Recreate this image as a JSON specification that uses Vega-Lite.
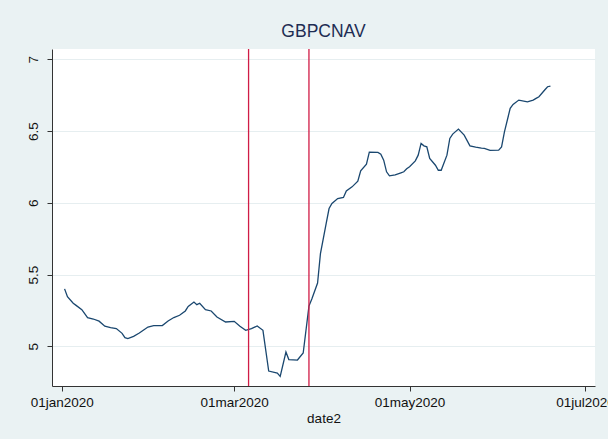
{
  "$schema": "https://vega.github.io/schema/vega-lite/v6.json",
  "width": 543,
  "height": 337,
  "autosize": {"type": "none"},
  "padding": {"left": 52, "top": 49, "right": 13, "bottom": 53},
  "background": "#EAF2F3",
  "config": {
    "view": {"fill": "white", "stroke": null},
    "font": "Liberation Sans",
    "axis": {
      "labelFont": "Liberation Sans",
      "titleFont": "Liberation Sans",
      "labelFontSize": 13.5,
      "titleFontSize": 13.5,
      "labelColor": "#111111",
      "titleColor": "#111111",
      "titleFontWeight": "normal",
      "domainColor": "#333333",
      "tickColor": "#333333",
      "tickSize": 5,
      "gridColor": "#E6EEF0",
      "gridWidth": 1
    }
  },
  "title": {
    "text": "GBPCNAV",
    "font": "Liberation Sans",
    "fontSize": 17.5,
    "fontWeight": "normal",
    "color": "#1E2D53",
    "anchor": "middle",
    "offset": 8
  },
  "layer": [
    {
      "data": {
        "values": [
          {"date": "2020-01-02", "v": 5.40},
          {"date": "2020-01-03", "v": 5.345},
          {"date": "2020-01-05", "v": 5.30},
          {"date": "2020-01-06", "v": 5.285},
          {"date": "2020-01-08", "v": 5.255},
          {"date": "2020-01-10", "v": 5.20},
          {"date": "2020-01-12", "v": 5.19},
          {"date": "2020-01-14", "v": 5.175},
          {"date": "2020-01-16", "v": 5.14},
          {"date": "2020-01-18", "v": 5.13},
          {"date": "2020-01-20", "v": 5.123},
          {"date": "2020-01-22", "v": 5.09},
          {"date": "2020-01-23", "v": 5.06},
          {"date": "2020-01-24", "v": 5.053},
          {"date": "2020-01-26", "v": 5.069},
          {"date": "2020-01-28", "v": 5.092},
          {"date": "2020-01-29", "v": 5.106},
          {"date": "2020-01-31", "v": 5.134},
          {"date": "2020-02-02", "v": 5.144},
          {"date": "2020-02-05", "v": 5.144},
          {"date": "2020-02-07", "v": 5.176},
          {"date": "2020-02-09", "v": 5.20},
          {"date": "2020-02-11", "v": 5.216},
          {"date": "2020-02-13", "v": 5.246},
          {"date": "2020-02-14", "v": 5.278},
          {"date": "2020-02-16", "v": 5.308},
          {"date": "2020-02-17", "v": 5.29},
          {"date": "2020-02-18", "v": 5.30},
          {"date": "2020-02-20", "v": 5.255},
          {"date": "2020-02-22", "v": 5.246},
          {"date": "2020-02-24", "v": 5.204},
          {"date": "2020-02-27", "v": 5.169},
          {"date": "2020-03-01", "v": 5.174},
          {"date": "2020-03-03", "v": 5.139},
          {"date": "2020-03-05", "v": 5.111},
          {"date": "2020-03-07", "v": 5.123},
          {"date": "2020-03-09", "v": 5.141},
          {"date": "2020-03-11", "v": 5.111},
          {"date": "2020-03-13", "v": 4.827},
          {"date": "2020-03-16", "v": 4.813},
          {"date": "2020-03-17", "v": 4.79},
          {"date": "2020-03-19", "v": 4.96},
          {"date": "2020-03-20", "v": 4.907},
          {"date": "2020-03-23", "v": 4.904},
          {"date": "2020-03-25", "v": 4.953},
          {"date": "2020-03-27", "v": 5.28},
          {"date": "2020-03-28", "v": 5.33},
          {"date": "2020-03-30", "v": 5.441},
          {"date": "2020-03-31", "v": 5.646},
          {"date": "2020-04-02", "v": 5.856},
          {"date": "2020-04-03", "v": 5.96},
          {"date": "2020-04-04", "v": 5.995},
          {"date": "2020-04-06", "v": 6.03},
          {"date": "2020-04-08", "v": 6.037},
          {"date": "2020-04-09", "v": 6.083},
          {"date": "2020-04-11", "v": 6.111},
          {"date": "2020-04-13", "v": 6.151},
          {"date": "2020-04-14", "v": 6.223},
          {"date": "2020-04-16", "v": 6.269},
          {"date": "2020-04-17", "v": 6.353},
          {"date": "2020-04-20", "v": 6.351},
          {"date": "2020-04-21", "v": 6.339},
          {"date": "2020-04-22", "v": 6.297},
          {"date": "2020-04-23", "v": 6.216},
          {"date": "2020-04-24", "v": 6.188},
          {"date": "2020-04-26", "v": 6.195},
          {"date": "2020-04-28", "v": 6.209},
          {"date": "2020-04-29", "v": 6.216},
          {"date": "2020-04-30", "v": 6.237},
          {"date": "2020-05-01", "v": 6.251},
          {"date": "2020-05-03", "v": 6.292},
          {"date": "2020-05-04", "v": 6.332},
          {"date": "2020-05-05", "v": 6.414},
          {"date": "2020-05-06", "v": 6.397},
          {"date": "2020-05-07", "v": 6.39},
          {"date": "2020-05-08", "v": 6.309},
          {"date": "2020-05-10", "v": 6.262},
          {"date": "2020-05-11", "v": 6.227},
          {"date": "2020-05-12", "v": 6.227},
          {"date": "2020-05-14", "v": 6.332},
          {"date": "2020-05-15", "v": 6.449},
          {"date": "2020-05-16", "v": 6.479},
          {"date": "2020-05-18", "v": 6.514},
          {"date": "2020-05-20", "v": 6.472},
          {"date": "2020-05-22", "v": 6.397},
          {"date": "2020-05-24", "v": 6.388},
          {"date": "2020-05-26", "v": 6.381},
          {"date": "2020-05-27", "v": 6.379},
          {"date": "2020-05-29", "v": 6.365},
          {"date": "2020-06-01", "v": 6.367},
          {"date": "2020-06-02", "v": 6.39},
          {"date": "2020-06-03", "v": 6.495},
          {"date": "2020-06-05", "v": 6.658},
          {"date": "2020-06-06", "v": 6.686},
          {"date": "2020-06-08", "v": 6.716},
          {"date": "2020-06-11", "v": 6.704},
          {"date": "2020-06-13", "v": 6.716},
          {"date": "2020-06-14", "v": 6.728},
          {"date": "2020-06-15", "v": 6.739},
          {"date": "2020-06-17", "v": 6.786},
          {"date": "2020-06-18", "v": 6.809},
          {"date": "2020-06-19", "v": 6.814}
        ]
      },
      "mark": {"type": "line", "color": "#1A476F", "strokeWidth": 1.3, "clip": true},
      "encoding": {
        "x": {
          "field": "date",
          "type": "temporal",
          "scale": {
            "type": "utc",
            "domain": [
              {"year": 2019, "month": 12, "date": 28, "hours": 15, "utc": true},
              {"year": 2020, "month": 7, "date": 4, "hours": 12, "utc": true}
            ],
            "nice": false
          },
          "axis": {
            "title": "date2",
            "grid": false,
            "values": [
              {"year": 2020, "month": 1, "date": 1, "utc": true},
              {"year": 2020, "month": 3, "date": 1, "utc": true},
              {"year": 2020, "month": 5, "date": 1, "utc": true},
              {"year": 2020, "month": 7, "date": 1, "utc": true}
            ],
            "labelExpr": "lower(utcFormat(datum.value, '%d%b%Y'))",
            "labelPadding": 4,
            "titlePadding": 3,
            "labelFlush": false,
            "labelOverlap": false
          }
        },
        "y": {
          "field": "v",
          "type": "quantitative",
          "scale": {"domain": [4.723, 7.072], "nice": false, "zero": false},
          "axis": {
            "title": null,
            "values": [5, 5.5, 6, 6.5, 7],
            "format": "~g",
            "grid": true,
            "labelAngle": -90,
            "labelAlign": "center",
            "labelBaseline": "alphabetic",
            "labelPadding": 10
          }
        }
      }
    },
    {
      "data": {
        "values": [
          {"date": "2020-03-06"},
          {"date": "2020-03-27"}
        ]
      },
      "mark": {"type": "rule", "color": "#D01C46", "strokeWidth": 1.3},
      "encoding": {
        "x": {"field": "date", "type": "temporal"}
      }
    }
  ]
}
